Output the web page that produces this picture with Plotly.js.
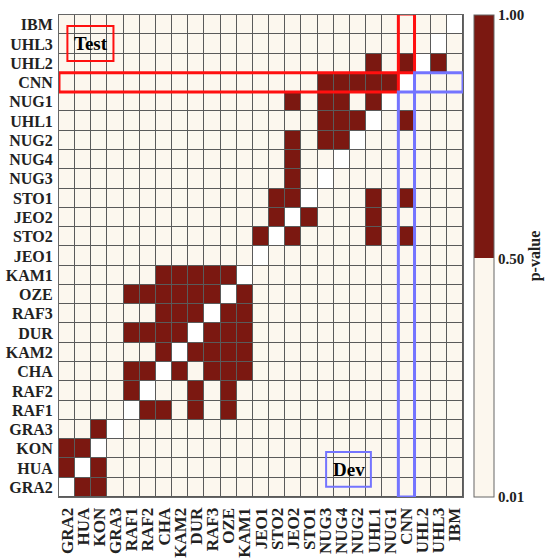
<!DOCTYPE html>
<html>
<head>
<meta charset="utf-8">
<script src="https://cdn.plot.ly/plotly-3.0.1.min.js"></script>
<style>html,body{margin:0;padding:0;background:#fff;}#chart{width:556px;height:560px;}</style>
</head>
<body>
<div id="chart"></div>
<script>
// Category labels (x left->right, y bottom->top)
const labels = ["GRA2","HUA","KON","GRA3","RAF1","RAF2","CHA","KAM2","DUR","RAF3","OZE","KAM1","JEO1","STO2","JEO2","STO1","NUG3","NUG4","NUG2","UHL1","NUG1","CNN","UHL2","UHL3","IBM"];

// p-values per row (columns in label order); null = diagonal
const pIBM  = [.01,.01,.01,.01,.01, .01,.01,.01,.01,.01, .01,.01,.01,.01,.01, .01,.01,.01,.01,.01, .01,.01,.01,.01,null];
const pUHL3 = [.01,.01,.01,.01,.01, .01,.01,.01,.01,.01, .01,.01,.01,.01,.01, .01,.01,.01,.01,.01, .01,.01,.01,null,.01];
const pUHL2 = [.01,.01,.01,.01,.01, .01,.01,.01,.01,.01, .01,.01,.01,.01,.01, .01,.01,.01,.01,1,   .01,1,  null,1,  .01];
const pCNN  = [.01,.01,.01,.01,.01, .01,.01,.01,.01,.01, .01,.01,.01,.01,.01, .01,1,  1,  1,  1,   1,  null,.01,.01,.01];
const pNUG1 = [.01,.01,.01,.01,.01, .01,.01,.01,.01,.01, .01,.01,.01,.01,1,   .01,1,  1,  .01,1,   null,.01,.01,.01,.01];
const pUHL1 = [.01,.01,.01,.01,.01, .01,.01,.01,.01,.01, .01,.01,.01,.01,.01, .01,1,  1,  1,  null,.01,1,  .01,.01,.01];
const pNUG2 = [.01,.01,.01,.01,.01, .01,.01,.01,.01,.01, .01,.01,.01,.01,1,   .01,1,  1,  null,.01,.01,.01,.01,.01,.01];
const pNUG4 = [.01,.01,.01,.01,.01, .01,.01,.01,.01,.01, .01,.01,.01,.01,1,   .01,.01,null,.01,.01,.01,.01,.01,.01,.01];
const pNUG3 = [.01,.01,.01,.01,.01, .01,.01,.01,.01,.01, .01,.01,.01,.01,1,   .01,null,.01,.01,.01,.01,.01,.01,.01,.01];
const pSTO1 = [.01,.01,.01,.01,.01, .01,.01,.01,.01,.01, .01,.01,.01,1,  1,   null,.01,.01,.01,1,  .01,1,  .01,.01,.01];
const pJEO2 = [.01,.01,.01,.01,.01, .01,.01,.01,.01,.01, .01,.01,.01,1,  null,1,  .01,.01,.01,1,   .01,.01,.01,.01,.01];
const pSTO2 = [.01,.01,.01,.01,.01, .01,.01,.01,.01,.01, .01,.01,1,  null,1,  .01,.01,.01,.01,1,   .01,1,  .01,.01,.01];
const pJEO1 = [.01,.01,.01,.01,.01, .01,.01,.01,.01,.01, .01,.01,null,.01,.01, .01,.01,.01,.01,.01, .01,.01,.01,.01,.01];
const pKAM1 = [.01,.01,.01,.01,.01, .01,1,  1,  1,  1,   1,  null,.01,.01,.01, .01,.01,.01,.01,.01, .01,.01,.01,.01,.01];
const pOZE  = [.01,.01,.01,.01,1,   1,  1,  1,  1,  1,   null,1, .01,.01,.01, .01,.01,.01,.01,.01, .01,.01,.01,.01,.01];
const pRAF3 = [.01,.01,.01,.01,.01, .01,1,  1,  1,  null,1,  1,  .01,.01,.01, .01,.01,.01,.01,.01, .01,.01,.01,.01,.01];
const pDUR  = [.01,.01,.01,.01,1,   1,  1,  1,  null,1,  1,  1,  .01,.01,.01, .01,.01,.01,.01,.01, .01,.01,.01,.01,.01];
const pKAM2 = [.01,.01,.01,.01,.01, .01,1,  null,1, 1,   1,  1,  .01,.01,.01, .01,.01,.01,.01,.01, .01,.01,.01,.01,.01];
const pCHA  = [.01,.01,.01,.01,1,   1,  null,1, .01,1,   1,  1,  .01,.01,.01, .01,.01,.01,.01,.01, .01,.01,.01,.01,.01];
const pRAF2 = [.01,.01,.01,.01,1,   null,.01,.01,1,.01,  1,  .01,.01,.01,.01, .01,.01,.01,.01,.01, .01,.01,.01,.01,.01];
const pRAF1 = [.01,.01,.01,.01,null,1,  1,  .01,1,  .01, 1,  .01,.01,.01,.01, .01,.01,.01,.01,.01, .01,.01,.01,.01,.01];
const pGRA3 = [.01,.01,1,  null,.01, .01,.01,.01,.01,.01, .01,.01,.01,.01,.01, .01,.01,.01,.01,.01, .01,.01,.01,.01,.01];
const pKON  = [1,  1,  null,.01,.01, .01,.01,.01,.01,.01, .01,.01,.01,.01,.01, .01,.01,.01,.01,.01, .01,.01,.01,.01,.01];
const pHUA  = [1,  null,1, .01,.01, .01,.01,.01,.01,.01, .01,.01,.01,.01,.01, .01,.01,.01,.01,.01, .01,.01,.01,.01,.01];
const pGRA2 = [null,1, 1,  .01,.01, .01,.01,.01,.01,.01, .01,.01,.01,.01,.01, .01,.01,.01,.01,.01, .01,.01,.01,.01,.01];

// Colorbar ticks
const cbTickVals = [0.01, 0.5, 1.0];
const cbTickText = ["0.01", "0.50", "1.00"];

const z = [pGRA2,pHUA,pKON,pGRA3,pRAF1,pRAF2,pCHA,pKAM2,pDUR,pRAF3,pOZE,pKAM1,pJEO1,pSTO2,pJEO2,pSTO1,pNUG3,pNUG4,pNUG2,pUHL1,pNUG1,pCNN,pUHL2,pUHL3,pIBM];
const diagZ = z.map(row => row.map(v => v === null ? 1 : null));

const serif = "Liberation Serif, Times New Roman, serif";
const dark = "#7b1811";
const cream = "#fcf7ee";
const thr = (0.5 - 0.01) / (1.0 - 0.01);

const main = {
  type: "heatmap", x: labels, y: labels, z: z,
  zmin: 0.01, zmax: 1.0,
  colorscale: [[0, cream], [thr, cream], [thr, dark], [1, dark]],
  xgap: 1, ygap: 1, hoverongaps: false,
  colorbar: {
    x: 1.026, xanchor: "left", xpad: 0, y: 0.5, yanchor: "middle", ypad: 0,
    len: 1, lenmode: "fraction", thickness: 20,
    outlinewidth: 1, outlinecolor: "#666",
    tickvals: cbTickVals, ticktext: cbTickText, ticks: "",
    tickfont: {family: serif, size: 15, weight: "bold", color: "#222"},
    title: {text: "p-value", side: "right", font: {family: serif, size: 16, weight: "bold", color: "#222"}}
  }
};
const diag = {
  type: "heatmap", x: labels, y: labels, z: diagZ,
  colorscale: [[0, "#ffffff"], [1, "#ffffff"]], showscale: false,
  xgap: 1, ygap: 1, hoverinfo: "skip"
};

const red = "#ff1010", blue = "#7474ff";
const shapes = [
  {type: "rect", xref: "x", yref: "y", x0: 0.02, x1: 2.87, y0: 22.11, y1: 23.93, line: {color: red, width: 2}},
  {type: "rect", xref: "x", yref: "y", x0: -0.5, x1: 20.5, y0: 20.5, y1: 21.5, line: {color: red, width: 3}},
  {type: "rect", xref: "x", yref: "y", x0: 20.5, x1: 21.5, y0: 21.5, y1: 24.55, line: {color: red, width: 3}},
  {type: "rect", xref: "x", yref: "y", x0: 21.5, x1: 24.5, y0: 20.5, y1: 21.5, line: {color: blue, width: 3}},
  {type: "rect", xref: "x", yref: "y", x0: 20.5, x1: 21.5, y0: -0.5, y1: 20.5, line: {color: blue, width: 3}},
  {type: "rect", xref: "x", yref: "y", x0: 16.03, x1: 18.8, y0: 0.03, y1: 1.83, line: {color: blue, width: 2}}
];
const annotations = [
  {xref: "x", yref: "y", x: 1.45, y: 23.02, text: "Test", showarrow: false, font: {family: serif, size: 19, weight: "bold", color: "#000"}},
  {xref: "x", yref: "y", x: 17.42, y: 0.93, text: "Dev", showarrow: false, font: {family: serif, size: 19, weight: "bold", color: "#000"}}
];

const axisCommon = {
  type: "category", ticks: "", showgrid: false, zeroline: false,
  showline: true, mirror: true, linecolor: "#666", linewidth: 1,
  tickmode: "linear", dtick: 1, tick0: 0,
  range: [-0.5, labels.length - 0.5], fixedrange: true
};

const layout = {
  width: 556, height: 560,
  margin: {l: 59, r: 79, t: 15, b: 63, pad: 0},
  paper_bgcolor: "#ffffff", plot_bgcolor: "#5a5a5a",
  xaxis: Object.assign({}, axisCommon, {
    tickangle: -90, ticklabelstandoff: 3,
    tickfont: {family: serif, size: 17, weight: "bold", color: "#222"}
  }),
  yaxis: Object.assign({}, axisCommon, {
    ticklabelstandoff: 2,
    tickfont: {family: serif, size: 16, weight: "bold", color: "#222"}
  }),
  shapes: shapes, annotations: annotations, showlegend: false
};

Plotly.newPlot("chart", [main, diag], layout, {staticPlot: true, displayModeBar: false});
</script>
</body>
</html>
